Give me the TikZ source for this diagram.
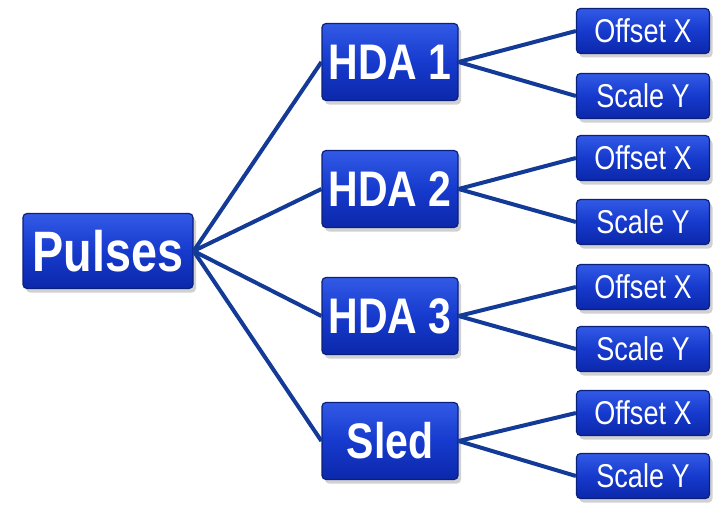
\documentclass[tikz,border=0pt]{standalone}
\usepackage{fontspec}
\setmainfont{Liberation Sans}
\newfontfamily\boxfont[FakeStretch=0.82]{Liberation Sans}
\usetikzlibrary{shadows,positioning}
\definecolor{boxtop}{RGB}{50,90,230}
\definecolor{boxmid}{RGB}{22,58,205}
\definecolor{boxbot}{RGB}{12,40,170}
\definecolor{boxedge}{RGB}{10,32,125}
\definecolor{linknavy}{RGB}{18,58,150}

\begin{document}
\begin{tikzpicture}[x=1pt, y=-1pt,
    hub/.style={draw=boxedge, line width=1.2pt, rounded corners=4pt, top color=boxtop, bottom color=boxbot, middle color=boxmid, minimum width=136pt, minimum height=77pt, inner sep=0pt, text=white, font=\boxfont\bfseries\fontsize{50}{50}\selectfont, drop shadow={shadow xshift=3pt, shadow yshift=-4pt, opacity=0.3, fill=black!60}},
    leaf/.style={hub, minimum width=133pt, minimum height=45pt, font=\boxfont\fontsize{33}{33}\selectfont},
    link/.style={draw=linknavy, line width=4pt}
]
\useasboundingbox (0,0) rectangle (717,511);

\node[hub, minimum width=170pt, minimum height=75pt, font=\boxfont\bfseries\fontsize{57}{57}\selectfont] (pulses) at (108,251) {Pulses};

\node[hub] (hda1) at (390,62) {HDA 1};
\node[hub] (hda2) at (390,189) {HDA 2};
\node[hub] (hda3) at (390,316) {HDA 3};
\node[hub] (sled) at (390,441) {Sled};

\node[leaf] (off1) at (643,31) {Offset X};
\node[leaf] (scl1) at (643,96) {Scale Y};
\node[leaf] (off2) at (643,158) {Offset X};
\node[leaf] (scl2) at (643,222) {Scale Y};
\node[leaf] (off3) at (643,287) {Offset X};
\node[leaf] (scl3) at (643,349) {Scale Y};
\node[leaf] (off4) at (643,413) {Offset X};
\node[leaf] (scl4) at (643,476) {Scale Y};

% pulses to the hub boxes
\draw[link] (pulses.east) -- (hda1.west);
\draw[link] (pulses.east) -- (hda2.west);
\draw[link] (pulses.east) -- (hda3.west);
\draw[link] (pulses.east) -- (sled.west);

% hub boxes to their leaves
\draw[link] (hda1.east) -- (off1.west);
\draw[link] (hda1.east) -- (scl1.west);
\draw[link] (hda2.east) -- (off2.west);
\draw[link] (hda2.east) -- (scl2.west);
\draw[link] (hda3.east) -- (off3.west);
\draw[link] (hda3.east) -- (scl3.west);
\draw[link] (sled.east) -- (off4.west);
\draw[link] (sled.east) -- (scl4.west);
\end{tikzpicture}
\end{document}
